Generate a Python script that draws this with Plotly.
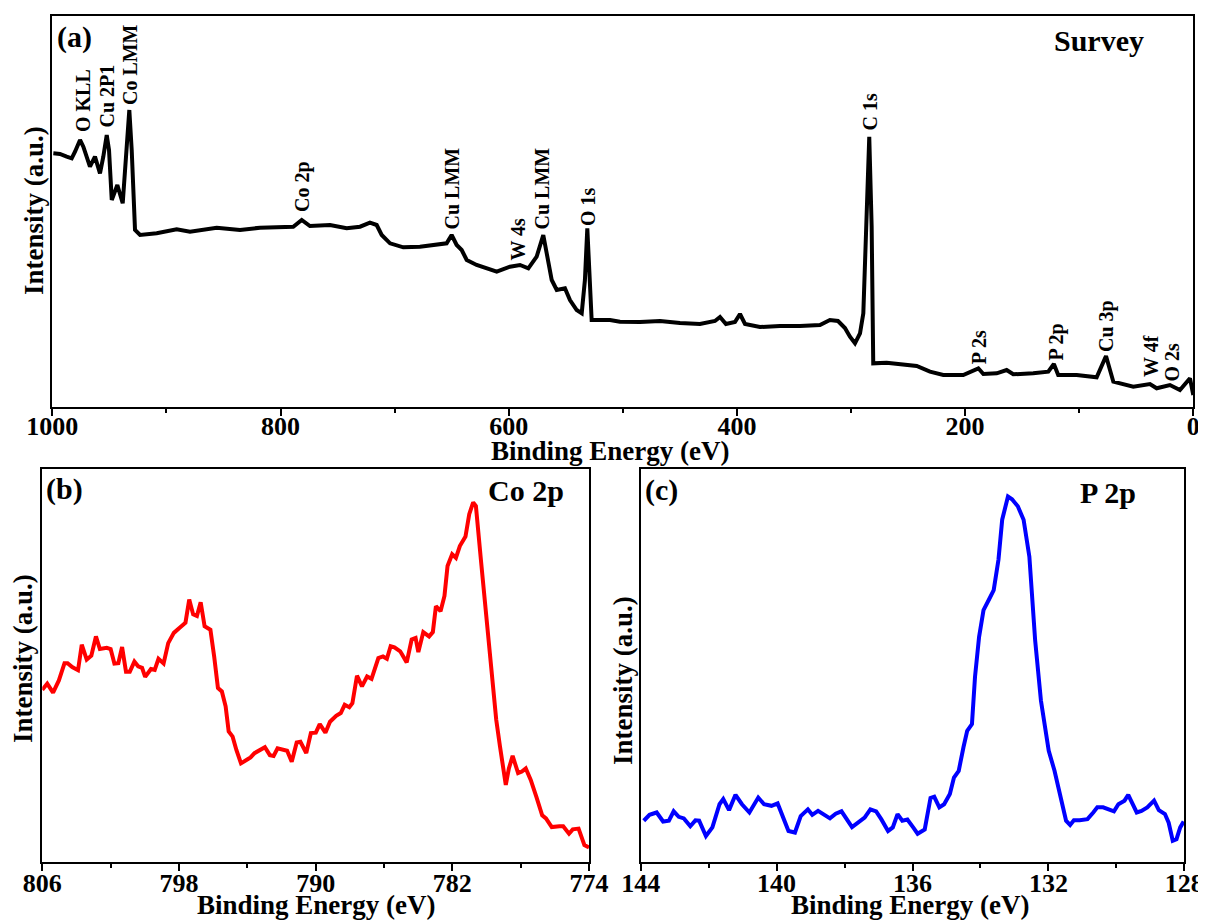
import plotly.graph_objects as go

# ---------------- data ----------------
# (a) Survey spectrum: binding energy (eV) and intensity (a.u.)
survey_be = [
    999.1, 993.3, 987.4, 983.0, 980.1, 975.7, 972.8, 967.0, 962.6, 958.2,
    955.3, 952.3, 950.3, 947.9, 943.0, 938.3, 935.4, 932.5, 930.4, 927.5,
    923.1, 908.5, 891.0, 879.3, 855.9, 835.5, 818.0, 800.4, 788.8, 781.4,
    774.2, 756.6, 742.0, 730.3, 721.6, 715.7, 711.3, 704.0, 692.4, 677.8,
    663.1, 654.4, 650.0, 645.6, 641.2, 636.8, 628.1, 610.5, 598.9, 590.1,
    582.8, 575.5, 569.7, 566.7, 562.3, 557.9, 550.7, 546.3, 540.4, 536.0,
    533.2, 531.1, 528.8, 527.3, 511.2, 502.5, 484.9, 467.4, 449.9, 432.4,
    419.2, 414.8, 409.6, 401.7, 397.3, 392.9, 379.8, 362.3, 344.7, 327.2,
    318.5, 311.4, 305.3, 300.9, 296.5, 292.1, 289.2, 286.3, 284.0, 281.9,
    280.5, 268.7, 257.1, 242.4, 230.8, 219.1, 201.6, 188.4, 184.0, 172.3,
    163.6, 157.8, 140.3, 127.1, 122.2, 118.4, 102.2, 84.7, 76.5, 70.1,
    52.6, 38.0, 32.1, 20.5, 11.7, 2.9, 0.0,
]
survey_int = [
    253.7, 253.0, 250.3, 248.7, 255.3, 267.0, 260.3, 240.3, 250.3, 233.7,
    250.3, 272.0, 257.0, 207.0, 222.0, 203.7, 250.3, 297.0, 257.0, 177.0,
    172.0, 173.7, 177.7, 175.3, 179.3, 177.0, 179.3, 180.3, 180.3, 187.0,
    181.0, 182.0, 178.7, 180.3, 184.3, 182.0, 172.0, 163.7, 159.7, 160.3,
    163.0, 163.7, 172.0, 162.0, 157.0, 147.0, 142.0, 135.3, 140.3, 142.0,
    138.7, 150.3, 172.0, 153.7, 127.0, 117.0, 118.7, 107.0, 97.0, 93.7,
    127.0, 178.7, 127.0, 87.0, 87.0, 85.3, 85.0, 86.0, 84.0, 83.0,
    86.0, 90.0, 83.0, 85.0, 93.0, 83.0, 80.0, 81.0, 81.0, 82.0,
    87.0, 86.0, 79.0, 70.3, 63.7, 73.7, 93.7, 180.3, 270.3, 180.3,
    43.7, 44.3, 42.7, 41.0, 35.3, 32.0, 32.0, 38.7, 33.0, 33.7,
    37.0, 32.7, 33.7, 35.3, 43.0, 32.0, 32.0, 29.7, 51.0, 25.3,
    20.3, 23.0, 18.7, 22.0, 17.0, 28.7, 12.0,
]

# peak labels of the survey: text, binding energy, intensity at label base
peak_names = ["O KLL", "Cu 2P1", "Co LMM", "Co 2p", "Cu LMM", "W 4s", "Cu LMM",
              "O 1s", "C 1s", "P 2s", "P 2p", "Cu 3p", "W 4f", "O 2s"]
peak_be = [973.5, 952.1, 932.3, 780.7, 649.3, 592.7, 570.4,
           530.9, 284.2, 187.7, 120.3, 76.5, 37.1, 19.5]
peak_int = [274, 279, 301, 194, 177, 145, 177,
            180, 275, 42, 45, 54, 29, 24]

# (b) Co 2p high-resolution spectrum
co_be = [
    806.00, 805.71, 805.37, 805.03, 804.70, 804.52, 804.25, 803.91, 803.69, 803.40,
    803.13, 802.86, 802.63, 802.23, 802.00, 801.78, 801.55, 801.33, 801.10, 800.88,
    800.61, 800.39, 800.16, 799.98, 799.64, 799.42, 799.20, 798.90, 798.63, 798.30,
    797.96, 797.62, 797.40, 797.17, 796.95, 796.73, 796.50, 796.16, 795.94, 795.72,
    795.49, 795.27, 795.09, 794.86, 794.64, 794.37, 794.03, 793.81, 793.58, 793.25,
    792.97, 792.68, 792.46, 792.23, 791.90, 791.67, 791.40, 791.11, 790.89, 790.55,
    790.28, 789.99, 789.76, 789.43, 789.16, 788.80, 788.53, 788.30, 788.03, 787.85,
    787.58, 787.29, 786.99, 786.73, 786.33, 786.06, 785.83, 785.61, 785.39, 785.05,
    784.67, 784.38, 784.15, 783.99, 783.70, 783.36, 783.14, 782.96, 782.69, 782.46,
    782.28, 782.01, 781.79, 781.56, 781.23, 781.01, 780.78, 780.62, 780.33, 779.99,
    779.66, 779.43, 779.21, 778.87, 778.69, 778.47, 778.15, 777.93, 777.70, 777.41,
    777.08, 776.74, 776.52, 776.18, 775.73, 775.51, 775.17, 774.95, 774.61, 774.27,
    774.00,
]
co_int = [
    438, 454, 431, 462, 506, 506, 496, 488, 553, 515,
    525, 574, 542, 545, 542, 505, 506, 547, 484, 484,
    510, 498, 494, 471, 491, 489, 517, 505, 557, 583,
    596, 609, 668, 630, 626, 661, 600, 591, 523, 443,
    434, 396, 332, 319, 285, 251, 260, 266, 277, 285,
    292, 272, 270, 289, 285, 283, 255, 304, 306, 277,
    328, 329, 351, 329, 357, 372, 379, 400, 394, 404,
    474, 447, 472, 466, 519, 523, 517, 549, 546, 536,
    508, 566, 570, 534, 585, 574, 585, 651, 638, 677,
    753, 783, 774, 804, 828, 885, 915, 906, 770, 609,
    472, 362, 294, 196, 238, 270, 226, 230, 238, 209,
    166, 119, 111, 89, 91, 91, 72, 83, 85, 43,
    37,
]

# (c) P 2p high-resolution spectrum
p_be = [
    143.91, 143.74, 143.53, 143.34, 143.17, 143.03, 142.88, 142.73, 142.54, 142.39,
    142.28, 142.08, 141.89, 141.68, 141.57, 141.40, 141.21, 141.02, 140.80, 140.54,
    140.37, 140.15, 139.97, 139.80, 139.65, 139.46, 139.29, 139.08, 138.95, 138.78,
    138.63, 138.43, 138.26, 138.09, 137.78, 137.58, 137.41, 137.24, 137.07, 136.92,
    136.72, 136.58, 136.44, 136.30, 136.15, 135.98, 135.85, 135.64, 135.47, 135.36,
    135.21, 135.07, 134.90, 134.78, 134.64, 134.50, 134.39, 134.25, 134.16, 134.04,
    133.91, 133.76, 133.61, 133.47, 133.36, 133.19, 133.07, 132.90, 132.73, 132.56,
    132.39, 132.22, 131.99, 131.82, 131.65, 131.48, 131.36, 131.25, 131.08, 130.85,
    130.68, 130.56, 130.39, 130.22, 130.07, 129.94, 129.76, 129.65, 129.54, 129.40,
    129.26, 129.09, 128.89, 128.75, 128.57, 128.46, 128.34, 128.23, 128.12, 128.02,
]
p_int = [
    105, 120, 126, 103, 105, 129, 115, 111, 91, 106,
    105, 66, 88, 147, 160, 132, 171, 147, 126, 164,
    147, 143, 149, 113, 79, 75, 117, 134, 120, 130,
    123, 111, 123, 129, 89, 103, 113, 134, 129, 109,
    79, 88, 122, 105, 108, 88, 72, 83, 163, 166,
    139, 147, 173, 215, 232, 292, 334, 351, 471, 573,
    641, 666, 692, 769, 871, 930, 923, 905, 871, 777,
    564, 411, 283, 232, 164, 105, 94, 106, 106, 109,
    126, 139, 139, 134, 129, 147, 156, 171, 151, 126,
    130, 139, 156, 132, 122, 100, 54, 58, 88, 103,
]

# ---------------- layout helpers ----------------
OFF = 8                       # page body margin of the html page
W, H = 1206 - OFF, 920 - OFF  # figure size so that it fits the window
FONT = "Liberation Serif"


def fx(px):
    return (px - OFF) / W


def fy(py):
    return 1 - (py - OFF) / H


fig = go.Figure()
fig.add_trace(go.Scatter(x=survey_be, y=survey_int, mode="lines",
                         line=dict(color="black", width=4), xaxis="x", yaxis="y"))
fig.add_trace(go.Scatter(x=co_be, y=co_int, mode="lines",
                         line=dict(color="#ff0000", width=4), xaxis="x2", yaxis="y2"))
fig.add_trace(go.Scatter(x=p_be, y=p_int, mode="lines",
                         line=dict(color="#0000ff", width=4), xaxis="x3", yaxis="y3"))

frame = dict(showline=True, linecolor="black", linewidth=1.5, mirror=True,
             showgrid=False, zeroline=False, automargin=False)
tickfont = dict(family=FONT, size=26, color="black", weight="bold")


def xax(domain, rng, tick0, dtick, mdtick, anchor, standoff):
    return dict(frame, domain=domain, range=rng, tickmode="linear", tick0=tick0,
                dtick=dtick, ticks="outside", ticklen=7, tickwidth=1.5,
                tickcolor="black", tickfont=tickfont, anchor=anchor,
                ticklabelstandoff=standoff,
                minor=dict(dtick=mdtick, tick0=tick0, ticks="outside", ticklen=4,
                           tickwidth=1.5, tickcolor="black"))


def yax(domain, rng, anchor):
    return dict(frame, domain=domain, range=rng, showticklabels=False, ticks="",
                anchor=anchor)


fig.update_layout(
    template="none",
    width=W, height=H, margin=dict(l=0, r=0, t=0, b=0, autoexpand=False),
    paper_bgcolor="white", plot_bgcolor="white", showlegend=False,
    xaxis=xax([fx(52.3), fx(1193.3)], [1000, 0], 0, 200, 100, "y", -12),
    yaxis=yax([fy(407), fy(16)], [0, 391], "x"),
    xaxis2=xax([fx(42.3), fx(589)], [806, 774], 774, 8, 4, "y2", -10),
    yaxis2=yax([fy(862), fy(469)], [0, 1000], "x2"),
    xaxis3=xax([fx(640.7), fx(1184.3)], [144, 128], 128, 4, 2, "y3", -10),
    yaxis3=yax([fy(862), fy(469)], [0, 1000], "x3"),
)

ann = []


def paper_text(text, x, y, size, xanchor="center", yanchor="middle", angle=0):
    ann.append(dict(text=text, x=fx(x), y=fy(y), xref="paper", yref="paper",
                    xanchor=xanchor, yanchor=yanchor, textangle=angle, showarrow=False,
                    font=dict(family=FONT, size=size, color="black", weight="bold")))


# panel tags and titles
paper_text("(a)", 55, 37, 30, xanchor="left")
paper_text("Survey", 1146, 40, 30, xanchor="right")
paper_text("(b)", 44, 489, 30, xanchor="left")
paper_text("Co 2p", 566, 491, 30, xanchor="right")
paper_text("(c)", 643, 490, 30, xanchor="left")
paper_text("P 2p", 1138, 492, 30, xanchor="right")

# axis titles
paper_text("Binding Energy (eV)", 610, 451, 27)
paper_text("Binding Energy (eV)", 316, 905, 27)
paper_text("Binding Energy (eV)", 910, 905, 27)
paper_text("Intensity (a.u.)", 34, 211, 27, angle=-90)
paper_text("Intensity (a.u.)", 23, 659, 27, angle=-90)
paper_text("Intensity (a.u.)", 623, 680, 27, angle=-90)

# survey peak labels
for name, be, it in zip(peak_names, peak_be, peak_int):
    ann.append(dict(text=name, x=be, y=it, xref="x", yref="y", xanchor="center",
                    yanchor="bottom", textangle=-90, showarrow=False, borderpad=0,
                    font=dict(family=FONT, size=20, color="black", weight="bold")))

fig.update_layout(annotations=ann)
fig.write_html("out.html")
